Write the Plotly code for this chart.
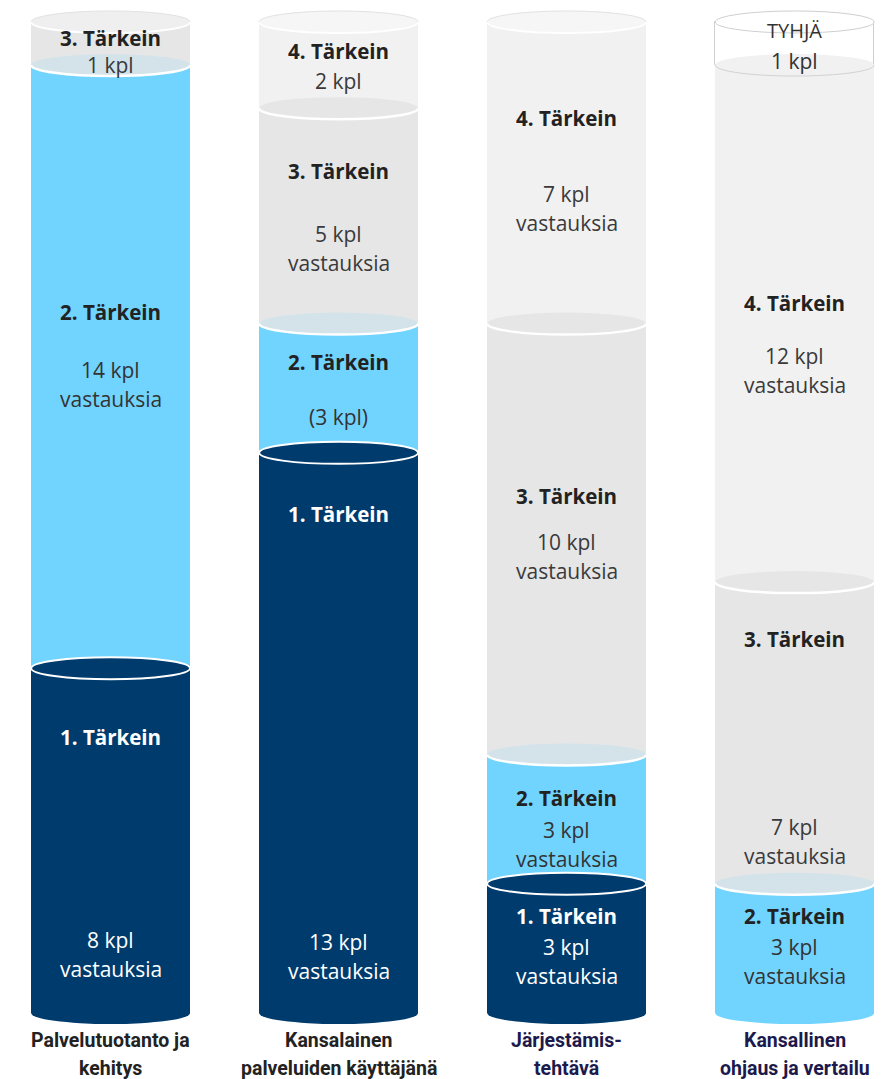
import plotly.graph_objects as go

# ---- data ---------------------------------------------------------------
categories = [
    "Palvelutuotanto ja<br>kehitys",
    "Kansalainen<br>palveluiden käyttäjänä",
    "Järjestämis-<br>tehtävä",
    "Kansallinen<br>ohjaus ja vertailu",
]
rank_titles = ["1. Tärkein", "2. Tärkein", "3. Tärkein", "4. Tärkein", "TYHJÄ"]
rank1 = [8, 13, 3, 0]
rank2 = [14, 3, 3, 3]
rank3 = [1, 5, 10, 7]
rank4 = [0, 2, 7, 12]
empty = [0, 0, 0, 1]

# how the count is worded inside each segment (rows = rank, cols = category)
count_formats = [
    ["{} kpl<br>vastauksia", "{} kpl<br>vastauksia", "{} kpl<br>vastauksia", ""],
    ["{} kpl<br>vastauksia", "({} kpl)", "{} kpl<br>vastauksia", "{} kpl<br>vastauksia"],
    ["{} kpl", "{} kpl<br>vastauksia", "{} kpl<br>vastauksia", "{} kpl<br>vastauksia"],
    ["", "{} kpl", "{} kpl<br>vastauksia", "{} kpl<br>vastauksia"],
    ["", "", "", "{} kpl"],
]

# ---- styling ------------------------------------------------------------
W, H = 887, 1079
Y_RANGE = [-1.532, 23.51]
X_RANGE = [-0.485, 3.405]
PX_PER_UNIT = H / (Y_RANGE[1] - Y_RANGE[0])
BAR_W = 0.697
RX = BAR_W / 2
RY = 11 / PX_PER_UNIT
LINE_GAP = 29 / PX_PER_UNIT

fills = ["#003b6d", "#71d4ff", "#e6e6e6", "#f1f1f1", "#ffffff"]
title_colors = ["#ffffff", "#222222", "#222222", "#222222", "#333333"]
body_colors = ["#ffffff", "#333333", "#3a3a3a", "#3a3a3a", "#333333"]
cat_colors = ["#222222", "#222222", "#1c1a4d", "#1c1a4d"]

# vertical placement of title / count inside a segment (fraction of segment height)
title_frac = [
    [0.80, 0.89, 0.75, None],
    [0.59, 0.70, 0.66, 0.75],
    [0.62, 0.71, 0.60, 0.81],
    [None, 0.66, 0.68, 0.54],
    [None, None, None, 0.80],
]
body_frac = [
    [0.17, 0.10, 0.40, None],
    [0.47, 0.28, 0.30, 0.40],
    [0.00, 0.35, 0.46, 0.14],
    [None, 0.32, 0.38, 0.41],
    [None, None, None, 0.10],
]

FONT = "Open Sans, Noto Sans, sans-serif"
CAT_FONT = "Roboto, sans-serif"

series = [rank1, rank2, rank3, rank4, empty]
xs = list(range(len(categories)))


def hex_rgb(h):
    h = h.lstrip("#")
    return [int(h[i:i + 2], 16) for i in (0, 2, 4)]


def blend(c_low, c_high, a):
    lo, hi = hex_rgb(c_low), hex_rgb(c_high)
    return "#" + "".join(f"{round(l * (1 - a) + h * a):02x}" for l, h in zip(lo, hi))


def lower_arc(cx, cy):
    k = 0.5523
    return (f"M {cx - RX},{cy} "
            f"C {cx - RX},{cy - k * RY} {cx - k * RX},{cy - RY} {cx},{cy - RY} "
            f"C {cx + k * RX},{cy - RY} {cx + RX},{cy - k * RY} {cx + RX},{cy}")


fig = go.Figure()

# cylinder bodies: one stacked bar trace per rank
bases = [0] * len(xs)
seg_info = [[] for _ in xs]  # (rank, bottom, value) bottom-up per column
for r, vals in enumerate(series):
    ys, bs = [], []
    for i, v in enumerate(vals):
        if v > 0:
            ys.append(v)
            bs.append(bases[i])
            seg_info[i].append((r, bases[i], v))
            bases[i] += v
        else:
            ys.append(None)
            bs.append(None)
    fig.add_trace(go.Bar(
        x=xs, y=ys, base=bs, width=BAR_W, name=rank_titles[r],
        marker=dict(color=fills[r],
                    line=dict(color="#cfcfcf" if r == 4 else fills[r],
                              width=1 if r == 4 else 0)),
        hoverinfo="skip", showlegend=False,
    ))

shapes = []
annotations = []


def ellipse(cx, cy, fill, line_color=None, line_w=0):
    shapes.append(dict(type="circle", xref="x", yref="y",
                       x0=cx - RX, x1=cx + RX, y0=cy - RY, y1=cy + RY,
                       fillcolor=fill, layer="above",
                       line=dict(color=line_color or fill, width=line_w)))


def arc(cx, cy, color, width):
    shapes.append(dict(type="path", xref="x", yref="y", path=lower_arc(cx, cy),
                       layer="above", line=dict(color=color, width=width)))


for i, segs in enumerate(seg_info):
    cx = xs[i]
    # rounded bottom
    ellipse(cx, 0, fills[segs[0][0]])
    # joints between stacked segments
    for (rl, bl, vl), (ru, bu, vu) in zip(segs[:-1], segs[1:]):
        y = bu
        if rl == 0:
            ellipse(cx, y, fills[0], "#ffffff", 2)
        elif ru == 4:
            ellipse(cx, y, fills[rl])
            arc(cx, y, "#d2d2d2", 1)
        else:
            fill = blend(fills[rl], fills[ru], 0.85) if rl == 1 else fills[rl]
            ellipse(cx, y, fill)
            arc(cx, y, "#ffffff", 2.5)
    # lid
    rt, bt, vt = segs[-1]
    top = bt + vt
    if rt == 4:
        ellipse(cx, top, "#ffffff", "#cfcfcf", 1)
    else:
        ellipse(cx, top, blend(fills[rt], "#ffffff", 0.35), "#e2e2e2", 1)
        arc(cx, top, "#ffffff", 2)

    # labels inside each segment
    for r, b, v in segs:
        tf, bf = title_frac[r][i], body_frac[r][i]
        annotations.append(dict(
            x=cx, y=b + tf * v, xref="x", yref="y", text=rank_titles[r],
            showarrow=False, yanchor="middle",
            font=dict(family=FONT, size=20.5 if r < 4 else 20,
                      color=title_colors[r],
                      weight="bold" if r < 4 else "normal")))
        lines = count_formats[r][i].format(v).split("<br>")
        y0 = b + bf * v + (len(lines) - 1) * LINE_GAP / 2
        for k, line in enumerate(lines):
            annotations.append(dict(
                x=cx, y=y0 - k * LINE_GAP, xref="x", yref="y", text=line,
                showarrow=False, yanchor="middle",
                font=dict(family=FONT, size=21, color=body_colors[r])))

    # category name under the cylinder
    for k, line in enumerate(categories[i].split("<br>")):
        annotations.append(dict(
            x=cx, y=-(28 + 28 * k) / PX_PER_UNIT, xref="x", yref="y", text=line,
            showarrow=False, yanchor="middle",
            font=dict(family=CAT_FONT, size=19.5, color=cat_colors[i], weight="bold")))

fig.update_layout(
    width=W, height=H,
    margin=dict(l=0, r=0, t=0, b=0),
    paper_bgcolor="#ffffff", plot_bgcolor="#ffffff",
    barmode="overlay", bargap=0,
    shapes=shapes, annotations=annotations,
    xaxis=dict(range=X_RANGE, visible=False, fixedrange=True),
    yaxis=dict(range=Y_RANGE, visible=False, fixedrange=True),
    showlegend=False,
)

fig.write_html("out.html")
